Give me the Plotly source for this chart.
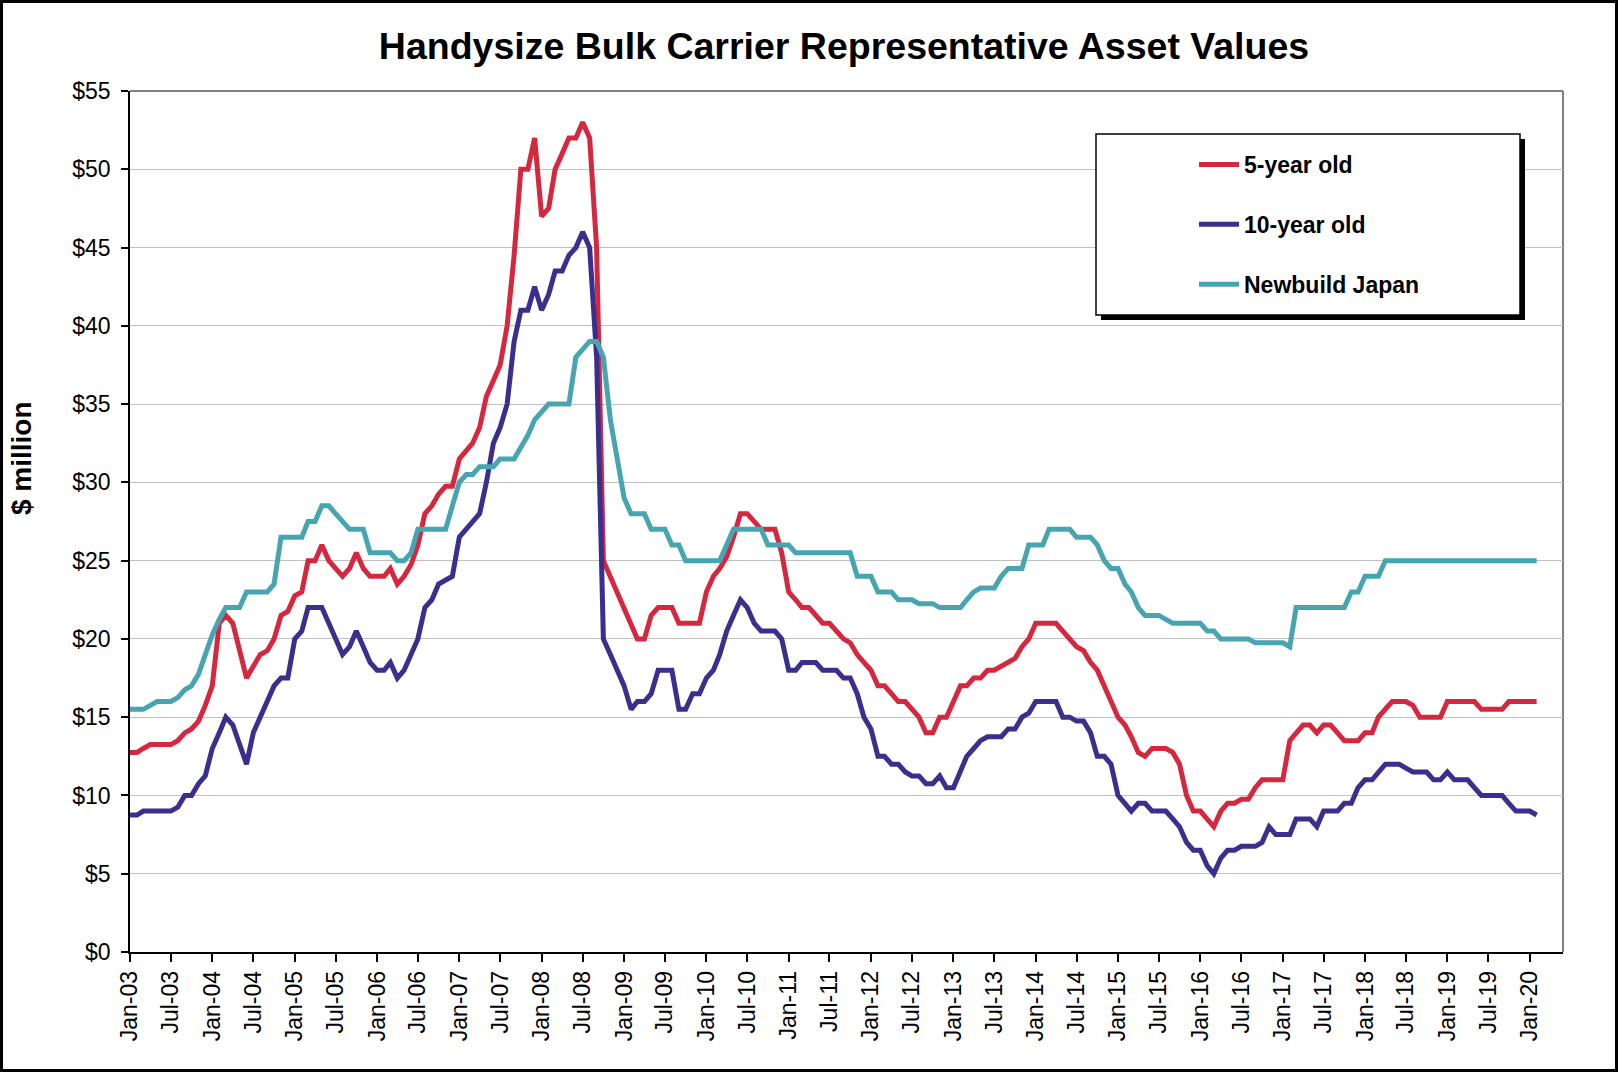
import pandas as pd
import plotly.graph_objects as go

# ---- data (monthly, Jan-03 .. Feb-20), $ million ----
start_month = "2003-01-01"
n_months = 206

five_year_old = [
    12.75, 12.75, 13.0, 13.25, 13.25, 13.25, 13.25, 13.5, 14.0, 14.25, 14.75, 15.75,
    17.0, 21.0, 21.5, 21.0, 19.25, 17.5, 18.25, 19.0, 19.25, 20.0, 21.5, 21.75,
    22.75, 23.0, 25.0, 25.0, 26.0, 25.0, 24.5, 24.0, 24.5, 25.5, 24.5, 24.0,
    24.0, 24.0, 24.5, 23.5, 24.0, 24.75, 26.0, 28.0, 28.5, 29.25, 29.75, 29.75,
    31.5, 32.0, 32.5, 33.5, 35.5, 36.5, 37.5, 40.0, 44.5, 50.0, 50.0, 52.0,
    47.0, 47.5, 50.0, 51.0, 52.0, 52.0, 53.0, 52.0, 45.0, 25.0, 24.0, 23.0,
    22.0, 21.0, 20.0, 20.0, 21.5, 22.0, 22.0, 22.0, 21.0, 21.0, 21.0, 21.0,
    23.0, 24.0, 24.5, 25.25, 26.5, 28.0, 28.0, 27.5, 27.0, 27.0, 27.0, 25.5,
    23.0, 22.5, 22.0, 22.0, 21.5, 21.0, 21.0, 20.5, 20.0, 19.75, 19.0, 18.5,
    18.0, 17.0, 17.0, 16.5, 16.0, 16.0, 15.5, 15.0, 14.0, 14.0, 15.0, 15.0,
    16.0, 17.0, 17.0, 17.5, 17.5, 18.0, 18.0, 18.25, 18.5, 18.75, 19.5, 20.0,
    21.0, 21.0, 21.0, 21.0, 20.5, 20.0, 19.5, 19.25, 18.5, 18.0, 17.0, 16.0,
    15.0, 14.5, 13.75, 12.75, 12.5, 13.0, 13.0, 13.0, 12.75, 12.0, 10.0, 9.0,
    9.0, 8.5, 8.0, 9.0, 9.5, 9.5, 9.75, 9.75, 10.5, 11.0, 11.0, 11.0,
    11.0, 13.5, 14.0, 14.5, 14.5, 14.0, 14.5, 14.5, 14.0, 13.5, 13.5, 13.5,
    14.0, 14.0, 15.0, 15.5, 16.0, 16.0, 16.0, 15.75, 15.0, 15.0, 15.0, 15.0,
    16.0, 16.0, 16.0, 16.0, 16.0, 15.5, 15.5, 15.5, 15.5, 16.0, 16.0, 16.0, 16.0, 16.0,
]

ten_year_old = [
    8.75, 8.75, 9.0, 9.0, 9.0, 9.0, 9.0, 9.25, 10.0, 10.0, 10.75, 11.25,
    13.0, 14.0, 15.0, 14.5, 13.25, 12.0, 14.0, 15.0, 16.0, 17.0, 17.5, 17.5,
    20.0, 20.5, 22.0, 22.0, 22.0, 21.0, 20.0, 19.0, 19.5, 20.5, 19.5, 18.5,
    18.0, 18.0, 18.5, 17.5, 18.0, 19.0, 20.0, 22.0, 22.5, 23.5, 23.75, 24.0,
    26.5, 27.0, 27.5, 28.0, 30.0, 32.5, 33.5, 35.0, 39.0, 41.0, 41.0, 42.5,
    41.0, 42.0, 43.5, 43.5, 44.5, 45.0, 46.0, 45.0, 38.0, 20.0, 19.0, 18.0,
    17.0, 15.5, 16.0, 16.0, 16.5, 18.0, 18.0, 18.0, 15.5, 15.5, 16.5, 16.5,
    17.5, 18.0, 19.0, 20.5, 21.5, 22.5, 22.0, 21.0, 20.5, 20.5, 20.5, 20.0,
    18.0, 18.0, 18.5, 18.5, 18.5, 18.0, 18.0, 18.0, 17.5, 17.5, 16.5, 15.0,
    14.25, 12.5, 12.5, 12.0, 12.0, 11.5, 11.25, 11.25, 10.75, 10.75, 11.25, 10.5,
    10.5, 11.5, 12.5, 13.0, 13.5, 13.75, 13.75, 13.75, 14.25, 14.25, 15.0, 15.25,
    16.0, 16.0, 16.0, 16.0, 15.0, 15.0, 14.75, 14.75, 14.0, 12.5, 12.5, 12.0,
    10.0, 9.5, 9.0, 9.5, 9.5, 9.0, 9.0, 9.0, 8.5, 8.0, 7.0, 6.5,
    6.5, 5.5, 5.0, 6.0, 6.5, 6.5, 6.75, 6.75, 6.75, 7.0, 8.0, 7.5,
    7.5, 7.5, 8.5, 8.5, 8.5, 8.0, 9.0, 9.0, 9.0, 9.5, 9.5, 10.5,
    11.0, 11.0, 11.5, 12.0, 12.0, 12.0, 11.75, 11.5, 11.5, 11.5, 11.0, 11.0,
    11.5, 11.0, 11.0, 11.0, 10.5, 10.0, 10.0, 10.0, 10.0, 9.5, 9.0, 9.0, 9.0, 8.75,
]

newbuild_japan = [
    15.5, 15.5, 15.5, 15.75, 16.0, 16.0, 16.0, 16.25, 16.75, 17.0, 17.75, 19.0,
    20.25, 21.25, 22.0, 22.0, 22.0, 23.0, 23.0, 23.0, 23.0, 23.5, 26.5, 26.5,
    26.5, 26.5, 27.5, 27.5, 28.5, 28.5, 28.0, 27.5, 27.0, 27.0, 27.0, 25.5,
    25.5, 25.5, 25.5, 25.0, 25.0, 25.5, 27.0, 27.0, 27.0, 27.0, 27.0, 28.5,
    30.0, 30.5, 30.5, 31.0, 31.0, 31.0, 31.5, 31.5, 31.5, 32.25, 33.0, 34.0,
    34.5, 35.0, 35.0, 35.0, 35.0, 38.0, 38.5, 39.0, 39.0, 38.0, 34.0, 31.5,
    29.0, 28.0, 28.0, 28.0, 27.0, 27.0, 27.0, 26.0, 26.0, 25.0, 25.0, 25.0,
    25.0, 25.0, 25.0, 26.0, 27.0, 27.0, 27.0, 27.0, 27.0, 26.0, 26.0, 26.0,
    26.0, 25.5, 25.5, 25.5, 25.5, 25.5, 25.5, 25.5, 25.5, 25.5, 24.0, 24.0,
    24.0, 23.0, 23.0, 23.0, 22.5, 22.5, 22.5, 22.25, 22.25, 22.25, 22.0, 22.0,
    22.0, 22.0, 22.5, 23.0, 23.25, 23.25, 23.25, 24.0, 24.5, 24.5, 24.5, 26.0,
    26.0, 26.0, 27.0, 27.0, 27.0, 27.0, 26.5, 26.5, 26.5, 26.0, 25.0, 24.5,
    24.5, 23.5, 23.0, 22.0, 21.5, 21.5, 21.5, 21.25, 21.0, 21.0, 21.0, 21.0,
    21.0, 20.5, 20.5, 20.0, 20.0, 20.0, 20.0, 20.0, 19.75, 19.75, 19.75, 19.75,
    19.75, 19.5, 22.0, 22.0, 22.0, 22.0, 22.0, 22.0, 22.0, 22.0, 23.0, 23.0,
    24.0, 24.0, 24.0, 25.0, 25.0, 25.0, 25.0, 25.0, 25.0, 25.0, 25.0, 25.0,
    25.0, 25.0, 25.0, 25.0, 25.0, 25.0, 25.0, 25.0, 25.0, 25.0, 25.0, 25.0, 25.0, 25.0,
]

series_names = ["5-year old", "10-year old", "Newbuild Japan"]
series_colors = ["#D5283F", "#3B2F8E", "#46A5B0"]

title_text = "Handysize Bulk Carrier Representative Asset Values"
y_title = "$ million"

dates = pd.date_range(start_month, periods=n_months, freq="MS")

FONT = "Liberation Sans, Arial, Helvetica, sans-serif"

# plot-area geometry (pixels) for paper-coordinate conversions of decorations
W, H = 1618, 1072
L, R, T, B = 130, 55, 91, 120
PW, PH = W - L - R, H - T - B


def px(xpix):
    return (xpix - L) / PW


def py(ypix):
    return (H - B - ypix) / PH


fig = go.Figure()
for i, (name, vals, col) in enumerate(zip(series_names,
                                            [five_year_old, ten_year_old, newbuild_japan],
                                            series_colors)):
    fig.add_trace(go.Scatter(
        x=dates, y=vals, mode="lines", name=name,
        line=dict(color=col, width=5),
        legendgroup=f"g{i}",
    ))

shapes = [
    # plot area gray frame (top & right)
    dict(type="line", xref="paper", yref="paper", x0=0, x1=1, y0=1, y1=1,
         line=dict(color="#808080", width=2), layer="between"),
    dict(type="line", xref="paper", yref="paper", x0=1, x1=1, y0=0, y1=1,
         line=dict(color="#808080", width=2), layer="between"),
    # legend shadow + box
    dict(type="rect", xref="paper", yref="paper",
         x0=px(1101), x1=px(1525), y0=py(320), y1=py(139),
         fillcolor="black", line=dict(width=0), layer="above"),
    dict(type="rect", xref="paper", yref="paper",
         x0=px(1096), x1=px(1520), y0=py(315), y1=py(134),
         fillcolor="white", line=dict(color="black", width=1.5), layer="above"),
    # outer figure border
    dict(type="rect", xref="paper", yref="paper",
         x0=px(1.5), x1=px(W - 1.5), y0=py(H - 1.5), y1=py(1.5),
         line=dict(color="black", width=3), fillcolor="rgba(0,0,0,0)", layer="above"),
]

fig.update_layout(
    width=W, height=H,
    margin=dict(l=L, r=R, t=T, b=B),
    paper_bgcolor="white", plot_bgcolor="white",
    font=dict(family=FONT, color="black"),
    title=dict(text=f"<b>{title_text}</b>", x=px(844), xref="paper", xanchor="center",
               y=1 - 46 / H, yanchor="middle",
               font=dict(size=37.5, family=FONT, color="black")),
    showlegend=True,
    legend=dict(x=px(1194), y=py(143), xanchor="left", yanchor="top",
                bgcolor="rgba(0,0,0,0)", borderwidth=0,
                font=dict(size=23, family=FONT, color="black", weight="bold"),
                traceorder="grouped", tracegroupgap=27, itemwidth=40),
    shapes=shapes,
    annotations=[dict(text=f"<b>{y_title}</b>", xref="paper", yref="paper",
                      x=px(21), y=py(458), xanchor="center", yanchor="middle",
                      textangle=-90, showarrow=False,
                      font=dict(size=28, family=FONT, color="black"))],
)

fig.update_xaxes(
    type="date", range=["2003-01-01", "2020-05-28"],
    tick0="2003-01-01", dtick="M6", tickformat="%b-%y",
    tickangle=-90, ticks="outside", ticklen=8, tickcolor="black", tickwidth=1.5,
    showgrid=False, showline=True, linecolor="black", linewidth=1.5,
    tickfont=dict(size=23, family=FONT, color="black"),
    zeroline=False, fixedrange=True,
)
fig.update_yaxes(
    range=[0, 55], dtick=5, tick0=0, tickprefix="$",
    ticks="outside", ticklen=7, tickcolor="black", tickwidth=1.5,
    showgrid=True, gridcolor="#C0C0C0", gridwidth=1,
    showline=True, linecolor="black", linewidth=1.5,
    tickfont=dict(size=23, family=FONT, color="black"),
    ticklabelstandoff=6,
    zeroline=False, fixedrange=True,
)

fig.write_html("out.html", config={"displayModeBar": False},
               post_script="document.body.style.margin='0px';")
